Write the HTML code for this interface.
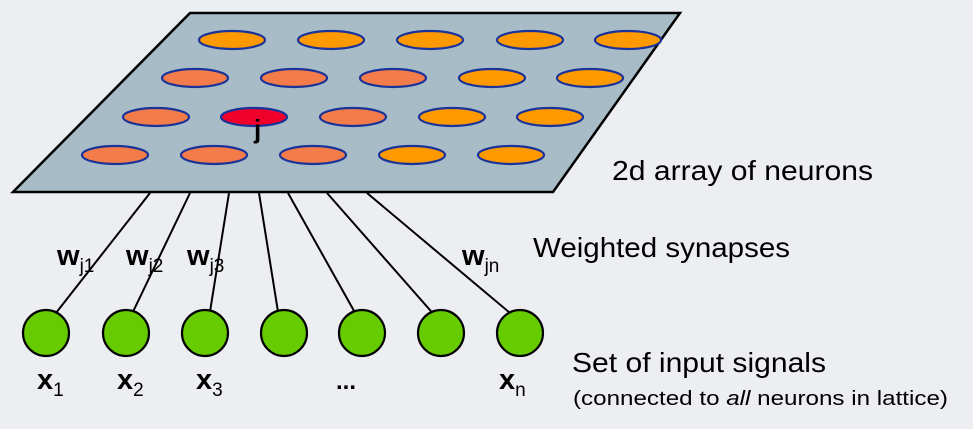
<!DOCTYPE html>
<html><head><meta charset="utf-8"><style>
html,body{margin:0;padding:0;background:#ECEEF2;}
svg{display:block;}
text{font-family:"Liberation Sans",sans-serif;fill:#000;}
</style></head><body>
<svg width="973" height="429" viewBox="0 0 973 429" xmlns="http://www.w3.org/2000/svg">
<rect width="973" height="429" fill="#ECEEF2"/>
<polygon points="190,13 680,13 553,192 13,192" fill="#A8BCC8" stroke="#000" stroke-width="2.5"/>
<g stroke="#1A3399" stroke-width="2.2">
<ellipse cx="232" cy="40" rx="33" ry="9" fill="#FF9900"/>
<ellipse cx="331" cy="40" rx="33" ry="9" fill="#FF9900"/>
<ellipse cx="430" cy="40" rx="33" ry="9" fill="#FF9900"/>
<ellipse cx="530" cy="40" rx="33" ry="9" fill="#FF9900"/>
<ellipse cx="628" cy="40" rx="33" ry="9" fill="#FF9900"/>
<ellipse cx="195" cy="78" rx="33" ry="9" fill="#F47C4A"/>
<ellipse cx="294" cy="78" rx="33" ry="9" fill="#F47C4A"/>
<ellipse cx="393" cy="78" rx="33" ry="9" fill="#F47C4A"/>
<ellipse cx="492" cy="78" rx="33" ry="9" fill="#FF9900"/>
<ellipse cx="590" cy="78" rx="33" ry="9" fill="#FF9900"/>
<ellipse cx="156" cy="117" rx="33" ry="9" fill="#F47C4A"/>
<ellipse cx="254" cy="117" rx="33" ry="9" fill="#F0002A"/>
<ellipse cx="353" cy="117" rx="33" ry="9" fill="#F47C4A"/>
<ellipse cx="452" cy="117" rx="33" ry="9" fill="#FF9900"/>
<ellipse cx="550" cy="117" rx="33" ry="9" fill="#FF9900"/>
<ellipse cx="115" cy="155" rx="33" ry="9" fill="#F47C4A"/>
<ellipse cx="214" cy="155" rx="33" ry="9" fill="#F47C4A"/>
<ellipse cx="313" cy="155" rx="33" ry="9" fill="#F47C4A"/>
<ellipse cx="412" cy="155" rx="33" ry="9" fill="#FF9900"/>
<ellipse cx="511" cy="155" rx="33" ry="9" fill="#FF9900"/>
</g>
<text x="254" y="138" font-size="26" font-weight="bold">j</text>
<g stroke="#000" stroke-width="2">
<line x1="150" y1="193" x2="52" y2="318"/>
<line x1="190" y1="193" x2="130" y2="318"/>
<line x1="229" y1="193" x2="209" y2="318"/>
<line x1="259" y1="193" x2="279" y2="318"/>
<line x1="288" y1="193" x2="358" y2="318"/>
<line x1="327" y1="193" x2="437" y2="318"/>
<line x1="367" y1="193" x2="516" y2="318"/>
</g>
<g fill="#66CC00" stroke="#000" stroke-width="2.2">
<circle cx="46" cy="333" r="23"/>
<circle cx="126" cy="333" r="23"/>
<circle cx="205" cy="333" r="23"/>
<circle cx="284" cy="333" r="23"/>
<circle cx="362" cy="333" r="23"/>
<circle cx="441" cy="333" r="23"/>
<circle cx="520" cy="333" r="23"/>
</g>
<g font-size="29" font-weight="bold">
<text x="57" y="265">w<tspan font-size="19" font-weight="normal" dy="7">j1</tspan></text>
<text x="126" y="265">w<tspan font-size="19" font-weight="normal" dy="7">j2</tspan></text>
<text x="187" y="265">w<tspan font-size="19" font-weight="normal" dy="7">j3</tspan></text>
<text x="462" y="265">w<tspan font-size="19" font-weight="normal" dy="7">jn</tspan></text>
<text x="37" y="389">x<tspan font-size="19" font-weight="normal" dy="7">1</tspan></text>
<text x="117" y="389">x<tspan font-size="19" font-weight="normal" dy="7">2</tspan></text>
<text x="196" y="389">x<tspan font-size="19" font-weight="normal" dy="7">3</tspan></text>
<text x="336" y="389" font-size="24">...</text>
<text x="499" y="389">x<tspan font-size="19" font-weight="normal" dy="7">n</tspan></text>
</g>
<text x="612" y="180" font-size="28" textLength="261" lengthAdjust="spacingAndGlyphs">2d array of neurons</text>
<text x="533" y="257" font-size="28" textLength="257" lengthAdjust="spacingAndGlyphs">Weighted synapses</text>
<text x="572" y="372" font-size="28" textLength="254" lengthAdjust="spacingAndGlyphs">Set of input signals</text>
<text x="573" y="405" font-size="20" textLength="375" lengthAdjust="spacingAndGlyphs">(connected to <tspan font-style="italic">all</tspan> neurons in lattice)</text>
</svg>
</body></html>
